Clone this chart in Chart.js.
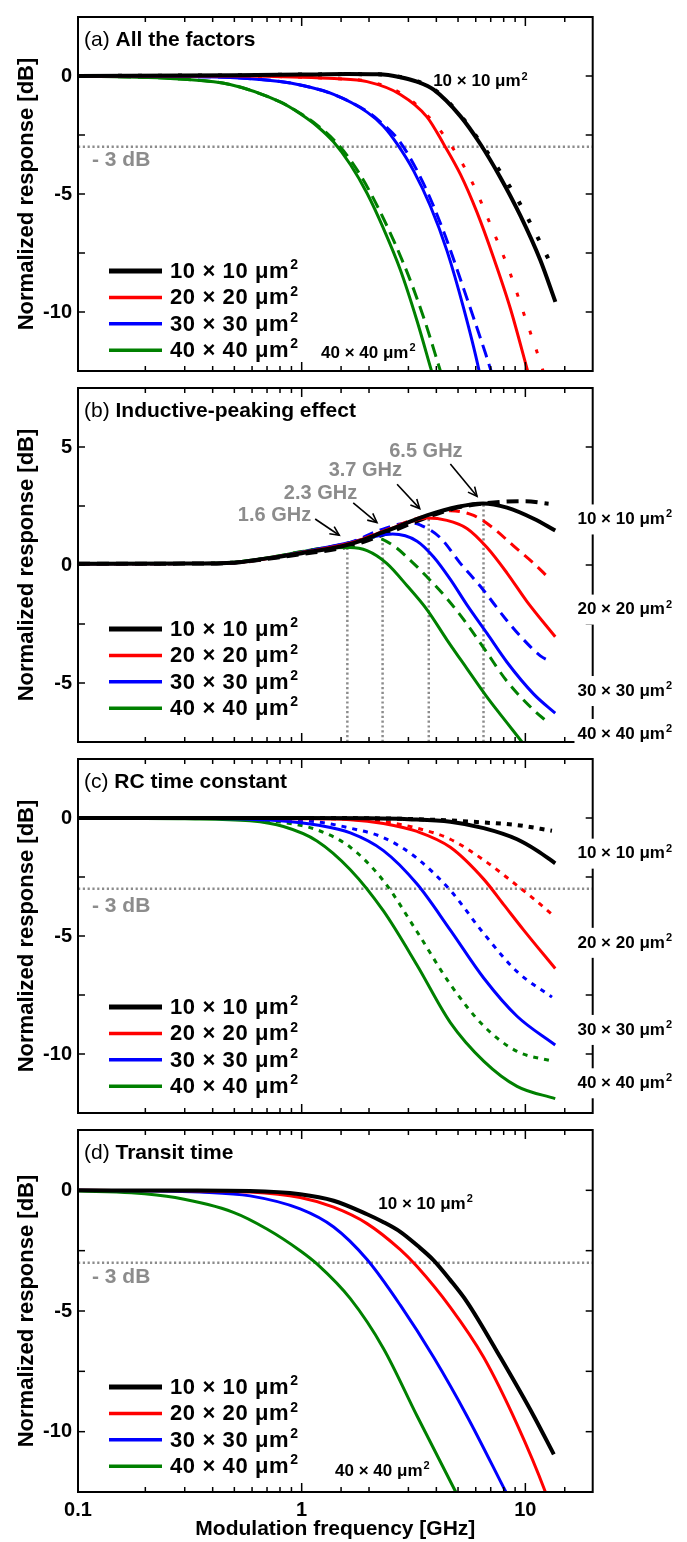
<!DOCTYPE html>
<html>
<head>
<meta charset="utf-8">
<script src="https://cdn.jsdelivr.net/npm/chart.js@4.4.1/dist/chart.umd.min.js"></script>
<style>
  html, body { margin: 0; padding: 0; background: #fff; }
  #wrap { position: relative; width: 687px; height: 1542px; overflow: hidden; }
  canvas { position: absolute; left: 0; }
</style>
</head>
<body>
<div id="wrap">
  <canvas id="pa" width="687" height="390" style="top:-1px"></canvas>
  <canvas id="pb" width="687" height="390" style="top:370px"></canvas>
  <canvas id="pc" width="687" height="390" style="top:741px"></canvas>
  <canvas id="pd" width="687" height="430" style="top:1112px"></canvas>
</div>
<script>
// device sizes (µm) and their colours
const sizes = [10, 20, 30, 40];
const colors = ['#000000', '#ff0000', '#0000ff', '#008000'];
const xLabels = [0.1, 1, 10];
const cutoff = -3;

// (a) all the factors -- solid = calculated, dotted/dashed = measured
const fA10  = [0.1, 0.5, 1, 1.6, 2.2, 2.76, 3.3, 3.89, 5.12, 6.29, 7.73, 9.5, 11.67, 13.62];
const dbA10 = [0, 0.03, 0.06, 0.08, 0.07, -0.05, -0.25, -0.58, -1.7, -2.88, -4.3, -5.92, -7.81, -9.57];
const fA10m  = [0.1, 0.5, 1, 1.6, 2.2, 2.76, 3.3, 3.89, 5.12, 6.29, 7.65, 9.24, 11.1, 13.4];
const dbA10m = [0, 0.03, 0.06, 0.08, 0.07, -0.04, -0.23, -0.55, -1.66, -2.8, -4.0, -5.24, -6.66, -8.21];
const fA20  = [0.1, 0.5, 1, 1.4, 1.96, 2.76, 3.63, 4.31, 5.12, 6.08, 7.21, 8.57, 10.17, 11];
const dbA20 = [0, 0, -0.05, -0.11, -0.24, -0.78, -1.73, -2.88, -4.16, -5.78, -7.7, -9.85, -12.4, -13.6];
const fA20m  = [0.1, 0.5, 1, 1.4, 1.96, 2.76, 3.63, 4.86, 5.83, 6.97, 8.42, 10.1, 11.08, 12];
const dbA20m = [0, 0, -0.05, -0.11, -0.22, -0.72, -1.65, -3.21, -4.57, -6.28, -8.19, -10.38, -11.48, -12.5];
const fA30  = [0.1, 0.3, 0.5, 0.8, 0.985, 1.39, 1.96, 2.32, 2.67, 3.17, 3.76, 4.46, 5.3, 6.18, 6.6];
const dbA30 = [0, -0.02, -0.07, -0.23, -0.38, -0.78, -1.53, -2.13, -2.88, -4.03, -5.51, -7.4, -9.85, -12.4, -13.8];
const fA30m  = [0.1, 0.3, 0.5, 0.8, 0.985, 1.39, 1.96, 2.24, 2.76, 3.51, 4.31, 5.3, 6.62, 7.3];
const dbA30m = [0, -0.02, -0.07, -0.23, -0.38, -0.78, -1.5, -1.93, -2.81, -4.57, -6.59, -9.02, -11.73, -13.0];
const fA40  = [0.1, 0.2, 0.286, 0.478, 0.801, 0.985, 1.18, 1.39, 1.65, 1.96, 2.32, 2.76, 3.28, 3.78, 4.2];
const dbA40 = [0, -0.06, -0.13, -0.36, -1.1, -1.6, -2.15, -2.8, -3.75, -4.97, -6.46, -8.21, -10.38, -12.4, -13.9];
const fA40m  = [0.1, 0.2, 0.286, 0.478, 0.801, 0.985, 1.18, 1.39, 1.65, 2.03, 2.87, 3.5, 4.17, 4.6];
const dbA40m = [0, -0.06, -0.13, -0.36, -1.1, -1.58, -2.1, -2.7, -3.55, -4.95, -8.0, -10.2, -12.5, -13.8];

// (b) inductive-peaking effect
const fB10  = [0.1, 0.3, 0.5, 0.7, 1, 1.64, 2.36, 3.63, 5, 6.47, 8.28, 10.9, 13.6];
const dbB10 = [0.05, 0.06, 0.1, 0.28, 0.5, 0.88, 1.42, 2.1, 2.47, 2.61, 2.43, 1.96, 1.46];
const fB10m  = [0.1, 0.3, 0.5, 0.7, 1, 1.64, 2.36, 3.63, 5, 6.47, 8, 10, 12.7];
const dbB10m = [0.05, 0.06, 0.1, 0.26, 0.46, 0.8, 1.32, 2.02, 2.44, 2.6, 2.68, 2.7, 2.6];
const fB20  = [0.1, 0.3, 0.5, 0.7, 1, 1.64, 2.36, 3.0, 3.63, 4.46, 5.48, 6.74, 8.28, 10.17, 13.6];
const dbB20 = [0.05, 0.06, 0.1, 0.28, 0.53, 0.92, 1.45, 1.8, 1.99, 1.89, 1.55, 0.74, -0.34, -1.55, -3.04];
const fB20m  = [0.1, 0.3, 0.5, 0.7, 1, 1.64, 2.36, 3.0, 3.63, 4.62, 5.87, 7.21, 8.85, 10.9, 12.7];
const dbB20m = [0.05, 0.06, 0.1, 0.28, 0.53, 0.92, 1.47, 1.85, 2.1, 2.3, 2.1, 1.55, 0.81, 0.07, -0.54];
const fB30  = [0.1, 0.3, 0.5, 0.7, 1, 1.64, 2.1, 2.55, 3.28, 3.89, 4.62, 5.48, 6.74, 8.28, 10.9, 13.6];
const dbB30 = [0.05, 0.06, 0.1, 0.28, 0.54, 0.95, 1.2, 1.31, 1.01, 0.34, -0.61, -1.69, -2.9, -4.12, -5.47, -6.28];
const fB30m  = [0.1, 0.3, 0.5, 0.7, 1, 1.64, 2.2, 2.76, 3.1, 3.38, 4.17, 5.12, 6.29, 8.28, 9.83, 11.67, 12.7];
const dbB30m = [0.05, 0.06, 0.1, 0.28, 0.54, 0.95, 1.45, 1.74, 1.78, 1.7, 1.15, 0.07, -0.9, -2.36, -3.17, -3.85, -4.05];
const fB40  = [0.1, 0.3, 0.5, 0.7, 1, 1.3, 1.64, 1.96, 2.4, 2.96, 3.63, 4.46, 5.48, 6.74, 8.28, 9.66, 11];
const dbB40 = [0.05, 0.06, 0.12, 0.3, 0.56, 0.73, 0.74, 0.61, 0.07, -0.88, -1.89, -3.17, -4.39, -5.6, -6.69, -7.5, -8.2];
const fB40m  = [0.1, 0.3, 0.5, 0.7, 1, 1.3, 1.64, 1.85, 2.1, 2.58, 3.06, 3.63, 4.46, 5.48, 6.74, 8.28, 10.9, 12.7];
const dbB40m = [0.05, 0.06, 0.12, 0.3, 0.57, 0.75, 0.95, 1.08, 1.18, 0.81, 0.2, -0.5, -1.42, -2.5, -3.72, -4.93, -6.15, -6.69];
const peakFreqs = [1.6, 2.3, 3.7, 6.5];
const peakTops = [0.75, 1.2, 2.0, 2.6];
const peakText = ['1.6 GHz', '2.3 GHz', '3.7 GHz', '6.5 GHz'];

// (c) RC time constant
const fC10  = [0.1, 1, 2, 3, 4.62, 6.51, 9.18, 11.28, 13.6];
const dbC10 = [0, 0, -0.01, -0.05, -0.16, -0.43, -0.9, -1.38, -1.92];
const fC10m  = [0.1, 1, 2, 4, 6.51, 9.18, 13.15];
const dbC10m = [0, 0, -0.01, -0.08, -0.19, -0.3, -0.54];
const fC20  = [0.1, 0.5, 1, 1.65, 2.32, 3.28, 4.62, 6.51, 8.0, 9.83, 13.6];
const dbC20 = [0, -0.01, -0.03, -0.07, -0.23, -0.57, -1.24, -2.59, -3.67, -4.75, -6.38];
const fC20m  = [0.1, 0.5, 1, 1.65, 2.32, 3.28, 4.62, 6.51, 9.18, 11.28, 13.15];
const dbC20m = [0, 0, -0.02, -0.06, -0.16, -0.43, -0.9, -1.78, -2.86, -3.54, -4.08];
const fC30  = [0.1, 0.3, 0.588, 0.829, 1.17, 1.65, 2.32, 3.28, 4.62, 6.51, 9.18, 13.6];
const dbC30 = [0, -0.01, -0.05, -0.13, -0.3, -0.63, -1.38, -2.8, -4.75, -6.78, -8.4, -9.62];
const fC30m  = [0.1, 0.3, 0.588, 0.829, 1.17, 1.65, 2.32, 3.28, 4.62, 6.51, 9.18, 13.15];
const dbC30m = [0, 0, -0.02, -0.07, -0.16, -0.43, -0.83, -1.71, -3.07, -4.89, -6.51, -7.59];
const fC40  = [0.1, 0.3, 0.588, 0.829, 1.17, 1.65, 2.32, 3.28, 4.62, 6.51, 9.18, 13.6];
const dbC40 = [0, -0.03, -0.12, -0.36, -0.97, -2.19, -3.94, -6.24, -8.67, -10.3, -11.37, -11.89];
const fC40m  = [0.1, 0.3, 0.588, 0.829, 1.17, 1.65, 2.32, 3.28, 4.62, 6.51, 9.18, 13.15];
const dbC40m = [0, -0.01, -0.07, -0.19, -0.5, -1.24, -2.66, -4.82, -7.05, -8.81, -9.89, -10.3];

// (d) transit time
const fD10  = [0.1, 0.3, 0.588, 0.985, 1.39, 1.96, 2.3, 2.76, 3.3, 3.89, 4.6, 5.48, 7.73, 10.9, 13.4];
const dbD10 = [0, -0.01, -0.03, -0.16, -0.43, -0.99, -1.3, -1.72, -2.3, -2.9, -3.7, -4.62, -6.92, -9.35, -10.94];
const fD20  = [0.1, 0.3, 0.588, 0.985, 1.39, 1.96, 2.76, 3.28, 4.62, 6.51, 9.18, 12.29, 13.5];
const dbD20 = [0, -0.02, -0.07, -0.3, -0.7, -1.38, -2.46, -3.16, -4.85, -6.92, -9.7, -12.5, -13.6];
const fD30  = [0.1, 0.2, 0.351, 0.588, 0.985, 1.39, 1.96, 2.76, 3.89, 5.48, 8.14, 9];
const dbD30 = [0, -0.02, -0.07, -0.23, -0.77, -1.52, -2.87, -4.76, -6.92, -9.35, -12.46, -13.25];
const fD40  = [0.1, 0.173, 0.272, 0.495, 0.699, 0.985, 1.17, 1.65, 2.32, 3.28, 4.86, 5.5];
const dbD40 = [-0.03, -0.1, -0.3, -0.91, -1.6, -2.5, -3.05, -4.49, -6.55, -9.35, -12.46, -13.4];

const FONT = '"Liberation Sans", Arial, Helvetica, sans-serif';
const GREY = '#8c8c8c';

function series(f, db, i, dash) {
  return {
    data: db.map((v, k) => ({ x: f[k], y: v })),
    borderColor: colors[i],
    borderWidth: i === 0 ? 4 : 3,
    borderDash: dash || [],
    cubicInterpolationMode: 'monotone',
    pointRadius: 0,
    clip: 0,
    fill: false
  };
}

function refLine(pts) {
  return {
    data: pts, borderColor: GREY, borderWidth: 2.5, borderDash: [2.2, 2.6],
    pointRadius: 0, tension: 0, clip: 0, fill: false
  };
}

function seg(ctx, x0, y0, x1, y1) {
  ctx.beginPath(); ctx.moveTo(x0, y0); ctx.lineTo(x1, y1); ctx.stroke();
}

function arrow(ctx, x0, y0, x1, y1) {
  seg(ctx, x0, y0, x1, y1);
  const ang = Math.atan2(y1 - y0, x1 - x0), L = 10, h = 0.45;
  ctx.beginPath();
  ctx.moveTo(x1 - L * Math.cos(ang - h), y1 - L * Math.sin(ang - h));
  ctx.lineTo(x1, y1);
  ctx.lineTo(x1 - L * Math.cos(ang + h), y1 - L * Math.sin(ang + h));
  ctx.stroke();
}

// "10 × 10 μm²" with a raised 2
function sizeText(ctx, x, y, s, size, box, spacing) {
  const base = s + ' × ' + s + ' μm';
  const big = `bold ${size}px ${FONT}`;
  const small = `bold ${Math.round(size * 0.62)}px ${FONT}`;
  ctx.letterSpacing = (spacing || 0) + 'px';
  ctx.font = big;
  const w1 = ctx.measureText(base).width;
  ctx.font = small;
  const w2 = ctx.measureText('2').width;
  if (box) {
    ctx.fillStyle = '#fff';
    ctx.fillRect(x - 3, y - 15, w1 + w2 + 7, 30);
  }
  ctx.fillStyle = '#000';
  ctx.textAlign = 'left';
  ctx.textBaseline = 'middle';
  ctx.font = big;
  ctx.fillText(base, x, y);
  ctx.font = small;
  ctx.fillText('2', x + w1 + 1, y - size * 0.3);
  ctx.letterSpacing = '0px';
}

function decor(p) {
  return {
    id: 'decor_' + p.id,
    afterDatasetsDraw(chart) {
      const ctx = chart.ctx, a = chart.chartArea;
      const xs = chart.scales.x, ys = chart.scales.y;
      const X = v => xs.getPixelForValue(v), Y = v => ys.getPixelForValue(v);
      ctx.save();
      ctx.strokeStyle = '#000';
      ctx.lineWidth = 1.5;
      xs.ticks.forEach(t => {
        const v = t.value;
        if (v <= xs.min || v >= xs.max) return;
        const lg = Math.log10(v);
        const major = Math.abs(lg - Math.round(lg)) < 1e-6;
        const px = X(v), len = major ? 9 : 5;
        seg(ctx, px, a.bottom, px, a.bottom - len);
        seg(ctx, px, a.top, px, a.top + len);
      });
      ys.ticks.forEach(t => {
        const py = Y(t.value);
        if (py <= a.top + 1 || py >= a.bottom - 1) return;
        seg(ctx, a.left, py, a.left + 7, py);
        seg(ctx, a.right, py, a.right - 7, py);
      });
      ctx.lineWidth = 2;
      ctx.strokeRect(a.left, a.top, a.right - a.left, a.bottom - a.top);

      // panel title
      ctx.fillStyle = '#000';
      ctx.textAlign = 'left';
      ctx.textBaseline = 'middle';
      ctx.font = `21px ${FONT}`;
      ctx.fillText(p.tag, a.left + 6, a.top + 23);
      const tw = ctx.measureText(p.tag + ' ').width;
      ctx.font = `bold 21px ${FONT}`;
      ctx.fillText(p.title, a.left + 6 + tw, a.top + 23);

      // legend (solid lines only)
      sizes.forEach((s, i) => {
        const ly = a.top + p.legendTop + i * 26.4;
        ctx.strokeStyle = colors[i];
        ctx.lineWidth = i === 0 ? 5 : 3.5;
        seg(ctx, a.left + 31, ly, a.left + 84, ly);
        sizeText(ctx, a.left + 92, ly + 1, s, 22, false, 0.6);
      });

      // -3 dB label
      if (p.cutLabel) {
        ctx.fillStyle = GREY;
        ctx.font = `bold 21px ${FONT}`;
        ctx.textAlign = 'left';
        ctx.textBaseline = 'middle';
        ctx.fillText('- 3 dB', X(p.cutLabel.f), Y(p.cutLabel.db));
      }

      // peak frequency labels and arrows
      if (p.ghz) {
        ctx.strokeStyle = '#000';
        ctx.lineWidth = 1.6;
        p.arrows.forEach(r => arrow(ctx, X(r[0]), Y(r[1]), X(r[2]), Y(r[3])));
        ctx.fillStyle = GREY;
        ctx.font = `bold 20px ${FONT}`;
        ctx.textAlign = 'right';
        ctx.textBaseline = 'middle';
        p.ghz.forEach((g, i) => ctx.fillText(peakText[i], X(g[0]), Y(g[1])));
      }

      // device size labels
      (p.labels || []).forEach(l => sizeText(ctx, X(l.f), Y(l.db), l.s, 17, l.box, 0));
      ctx.restore();
    }
  };
}

const panels = [
  { id: 'pa', tag: '(a)', title: 'All the factors', ymin: -12.5, ymax: 2.5,
    solid: [[fA10, dbA10], [fA20, dbA20], [fA30, dbA30], [fA40, dbA40]],
    other: [[fA10m, dbA10m], [fA20m, dbA20m], [fA30m, dbA30m], [fA40m, dbA40m]],
    dash: [[4, 16], [4, 16], [13, 7], [13, 7]],
    cutLine: true, cutLabel: { f: 0.1155, db: -3.55 }, legendTop: 254,
    labels: [{ f: 3.87, db: -0.24, s: 10 }, { f: 1.22, db: -11.73, s: 40 }] },
  { id: 'pb', tag: '(b)', title: 'Inductive-peaking effect', ymin: -7.5, ymax: 7.5,
    solid: [[fB10, dbB10], [fB20, dbB20], [fB30, dbB30], [fB40, dbB40]],
    other: [[fB10m, dbB10m], [fB20m, dbB20m], [fB30m, dbB30m], [fB40m, dbB40m]],
    dash: [[12, 7], [11, 7], [11, 7], [11, 7]],
    peaks: true, legendTop: 241,
    ghz: [[1.103, 2.11], [1.77, 3.04], [2.81, 4.01], [5.24, 4.82]],
    arrows: [[1.149, 1.95, 1.472, 1.26], [1.70, 2.63, 2.17, 1.80], [2.67, 3.42, 3.37, 2.39], [4.62, 4.28, 6.08, 2.91]],
    labels: [{ f: 17.1, db: 1.93, s: 10, box: true }, { f: 17.1, db: -1.89, s: 20, box: true },
             { f: 17.1, db: -5.34, s: 30, box: true }, { f: 17.1, db: -7.16, s: 40, box: true }] },
  { id: 'pc', tag: '(c)', title: 'RC time constant', ymin: -12.5, ymax: 2.5,
    solid: [[fC10, dbC10], [fC20, dbC20], [fC30, dbC30], [fC40, dbC40]],
    other: [[fC10m, dbC10m], [fC20m, dbC20m], [fC30m, dbC30m], [fC40m, dbC40m]],
    dash: [[5, 6], [5, 6], [5, 6], [5, 6]],
    cutLine: true, cutLabel: { f: 0.1155, db: -3.75 }, legendTop: 248,
    labels: [{ f: 17.1, db: -1.51, s: 10, box: true }, { f: 17.1, db: -5.29, s: 20, box: true },
             { f: 17.1, db: -8.98, s: 30, box: true }, { f: 17.1, db: -11.24, s: 40, box: true }] },
  { id: 'pd', tag: '(d)', title: 'Transit time', ymin: -12.5, ymax: 2.5,
    solid: [[fD10, dbD10], [fD20, dbD20], [fD30, dbD30], [fD40, dbD40]],
    other: [], dash: [],
    cutLine: true, cutLabel: { f: 0.1155, db: -3.6 }, legendTop: 257,
    labels: [{ f: 2.2, db: -0.57, s: 10 }, { f: 1.41, db: -11.65, s: 40 }] }
];

function build(p) {
  const datasets = [];
  p.solid.forEach((s, i) => datasets.push(series(s[0], s[1], i)));
  p.other.forEach((s, i) => datasets.push(series(s[0], s[1], i, p.dash[i])));
  if (p.cutLine) datasets.push(refLine([{ x: 0.1, y: cutoff }, { x: 20, y: cutoff }]));
  if (p.peaks) peakFreqs.forEach((f, i) => datasets.push(refLine([{ x: f, y: p.ymin }, { x: f, y: peakTops[i] }])));
  const last = p.id === 'pd';
  const tickFont = { family: FONT, size: 20, weight: 'bold' };

  new Chart(document.getElementById(p.id), {
    type: 'line',
    data: { datasets },
    options: {
      responsive: false,
      animation: false,
      devicePixelRatio: 1,
      layout: { padding: { left: 0, right: 94.3, top: 10, bottom: last ? 0 : 10 } },
      plugins: { legend: { display: false }, tooltip: { enabled: false } },
      scales: {
        x: {
          type: 'logarithmic', min: 0.1, max: 20,
          grid: { display: false, drawTicks: false },
          border: { display: false },
          ticks: {
            display: last, autoSkip: false, maxRotation: 0, padding: 6, color: '#000', font: tickFont,
            callback: v => (xLabels.includes(v) ? String(v) : '')
          },
          title: {
            display: last, text: 'Modulation frequency [GHz]', color: '#000',
            font: { family: FONT, size: 21, weight: 'bold' }, padding: { top: 0, bottom: 0 }
          },
          afterFit: s => { s.height = last ? 50 : 0; }
        },
        y: {
          min: p.ymin, max: p.ymax,
          grid: { display: false, drawTicks: false },
          border: { display: false },
          ticks: {
            stepSize: 2.5, autoSkip: false, padding: 6, color: '#000', font: tickFont,
            callback: v => (v % 5 === 0 ? String(v) : '')
          },
          title: {
            display: true, text: 'Normalized response [dB]', color: '#000',
            font: { family: FONT, size: 22, weight: 'bold' }, padding: { top: 14, bottom: 0 }
          },
          afterFit: s => { s.width = 78; }
        }
      }
    },
    plugins: [decor(p)]
  });
}

panels.forEach(build);
</script>
</body>
</html>
